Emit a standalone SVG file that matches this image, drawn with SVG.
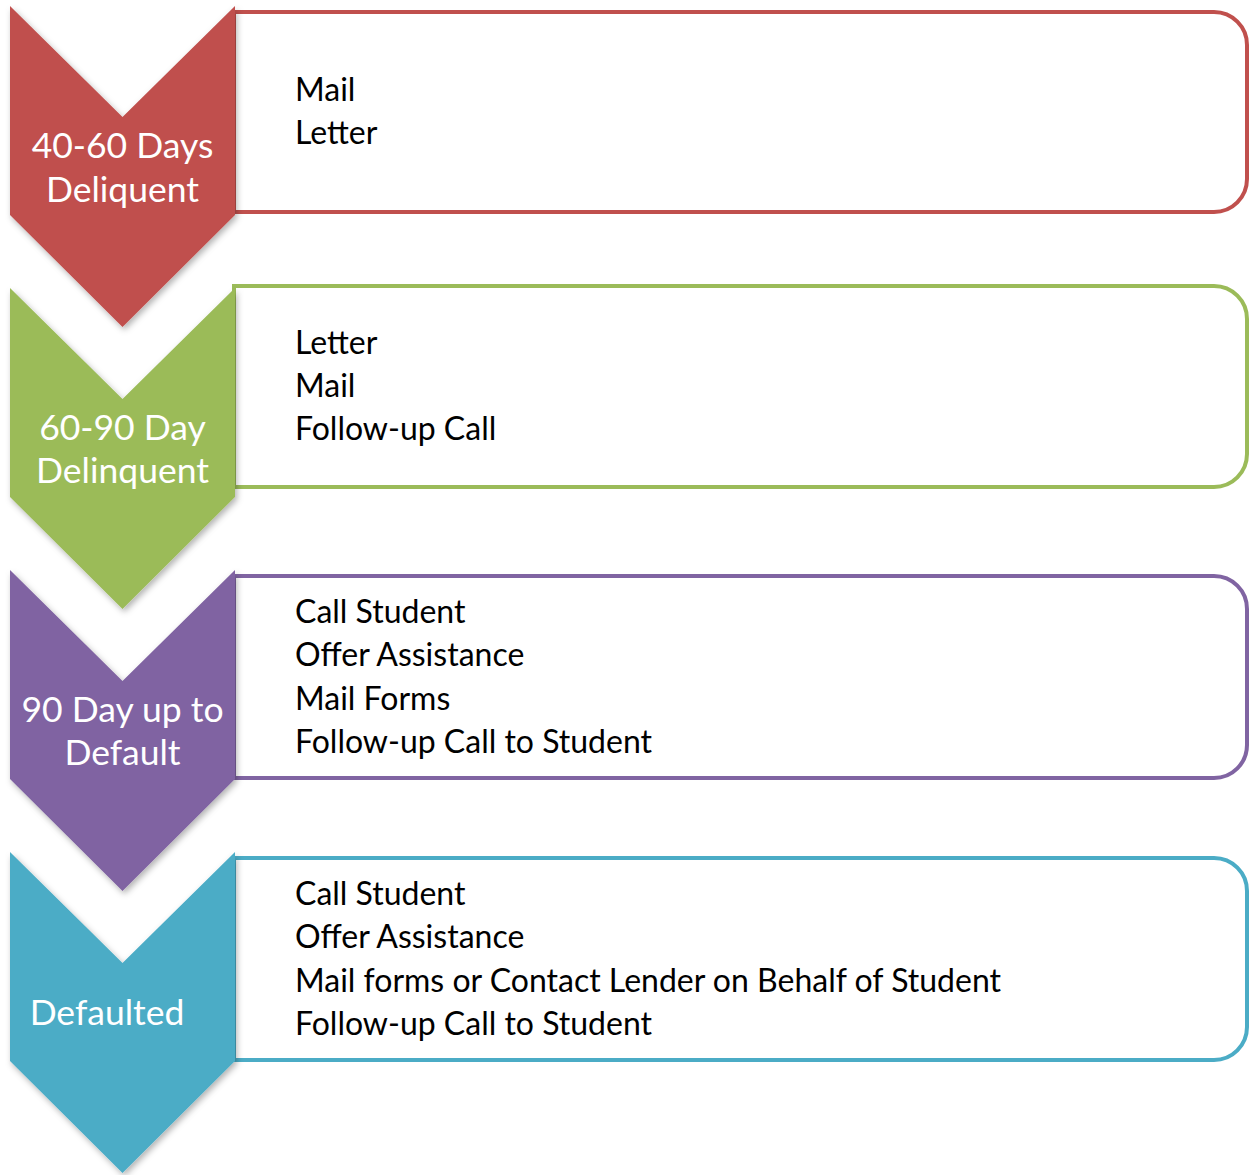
<svg xmlns="http://www.w3.org/2000/svg" width="1254" height="1175" viewBox="0 0 1254 1175">
  <defs>
    <filter id="shadow" x="-10%" y="-10%" width="130%" height="130%">
      <feDropShadow dx="2" dy="3" stdDeviation="3" flood-color="#000" flood-opacity="0.3"/>
    </filter>
    <path id="chev" d="M10,0 L122.5,111 L235,0 L235,209 L122.5,321 L10,209 Z"/>
  </defs>
  <style>
    .box { fill: #ffffff; stroke-width: 4; }
    .lbl { font-family: Lato, "Open Sans", sans-serif; font-size: 35.5px; fill: #ffffff; text-anchor: middle; }
    .item { font-family: Lato, "Open Sans", sans-serif; font-size: 32px; fill: #000000; }
  </style>
  <rect width="1254" height="1175" fill="#ffffff"/>

  <g id="connectors"></g>

  <g id="step1">
    <path class="box" stroke="#C0504D" d="M234,12 H1214 A33,33 0 0 1 1247,45 V179 A33,33 0 0 1 1214,212 H234 Z"/>
    <use href="#chev" y="6" fill="#C0504D" filter="url(#shadow)"/>
    <text class="lbl" x="122.5" y="158">40-60 Days</text>
    <text class="lbl" x="122.5" y="202">Deliquent</text>
    <text class="item" x="295" y="101">Mail</text>
    <text class="item" x="295" y="144">Letter</text>
  </g>

  <g id="step2">
    <path class="box" stroke="#9BBB59" d="M234,286 H1214 A33,33 0 0 1 1247,319 V454 A33,33 0 0 1 1214,487 H234 Z"/>
    <use href="#chev" y="288" fill="#9BBB59" filter="url(#shadow)"/>
    <text class="lbl" x="122.5" y="440">60-90 Day</text>
    <text class="lbl" x="122.5" y="483">Delinquent</text>
    <text class="item" x="295" y="354">Letter</text>
    <text class="item" x="295" y="397">Mail</text>
    <text class="item" x="295" y="440">Follow-up Call</text>
  </g>

  <g id="step3">
    <path class="box" stroke="#8064A2" d="M234,576 H1214 A33,33 0 0 1 1247,609 V745 A33,33 0 0 1 1214,778 H234 Z"/>
    <use href="#chev" y="570" fill="#8064A2" filter="url(#shadow)"/>
    <text class="lbl" x="122.5" y="722">90 Day up to</text>
    <text class="lbl" x="122.5" y="765">Default</text>
    <text class="item" x="295" y="623">Call Student</text>
    <text class="item" x="295" y="666">Offer Assistance</text>
    <text class="item" x="295" y="710">Mail Forms</text>
    <text class="item" x="295" y="753">Follow-up Call to Student</text>
  </g>

  <g id="step4">
    <path class="box" stroke="#4BACC6" d="M234,858 H1214 A33,33 0 0 1 1247,891 V1027 A33,33 0 0 1 1214,1060 H234 Z"/>
    <use href="#chev" y="852" fill="#4BACC6" filter="url(#shadow)"/>
    <text class="lbl" x="107" y="1025">Defaulted</text>
    <text class="item" x="295" y="905">Call Student</text>
    <text class="item" x="295" y="948">Offer Assistance</text>
    <text class="item" x="295" y="992">Mail forms or Contact Lender on Behalf of Student</text>
    <text class="item" x="295" y="1035">Follow-up Call to Student</text>
  </g>
</svg>
